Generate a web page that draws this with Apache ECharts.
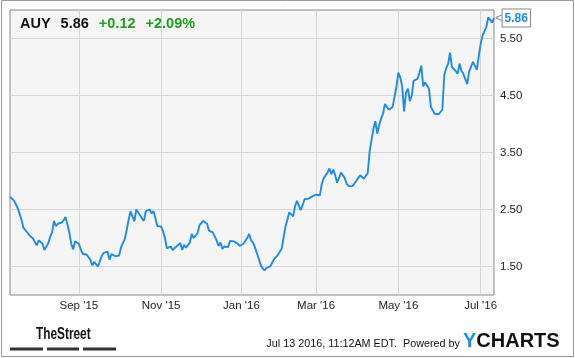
<!DOCTYPE html>
<html><head><meta charset="utf-8">
<script src="https://cdn.jsdelivr.net/npm/echarts@6/dist/echarts.min.js"></script>
<style>html,body{margin:0;padding:0;background:#fff}#c{width:575px;height:358px}</style>
</head><body><div id="c"></div>
<script>
// Trading days (categories), one list per month
const monthKeys = ['2015-07','2015-08','2015-09','2015-10','2015-11','2015-12','2016-01','2016-02','2016-03','2016-04','2016-05','2016-06','2016-07'];
const tradingDays = [
  [13,14,15,16,17,20,21,22,23,24,27,28,29,30,31],
  [3,4,5,6,7,10,11,12,13,14,17,18,19,20,21,24,25,26,27,28,31],
  [1,2,3,4,8,9,10,11,14,15,16,17,18,21,22,23,24,25,28,29,30],
  [1,2,5,6,7,8,9,12,13,14,15,16,19,20,21,22,23,26,27,28,29,30],
  [2,3,4,5,6,9,10,11,12,13,16,17,18,19,20,23,24,25,27,30],
  [1,2,3,4,7,8,9,10,11,14,15,16,17,18,21,22,23,24,28,29,30,31],
  [4,5,6,7,8,11,12,13,14,15,19,20,21,22,25,26,27,28,29],
  [1,2,3,4,5,8,9,10,11,12,16,17,18,19,22,23,24,25,26,29],
  [1,2,3,4,7,8,9,10,11,14,15,16,17,18,21,22,23,24,28,29,30,31],
  [1,4,5,6,7,8,11,12,13,14,15,18,19,20,21,22,25,26,27,28,29],
  [2,3,4,5,6,9,10,11,12,13,16,17,18,19,20,23,24,25,26,27,31],
  [1,2,3,6,7,8,9,10,13,14,15,16,17,20,21,22,23,24,27,28,29,30],
  [1,5,6,7,8,11,12,13]
];

// AUY closing prices, one list per month
const pricesJul15 = [2.72,2.69,2.66,2.63,2.53,2.50,2.32,2.18,2.14,2.10,2.05,2.03,1.99,2.01,1.87];
const pricesAug15 = [1.96,1.94,1.90,1.79,1.80,1.91,2.02,2.10,2.30,2.21,2.25,2.28,2.27,2.31,2.37,2.24,2.10,1.90,1.80,1.94,1.93];
const pricesSep15 = [1.90,1.80,1.72,1.72,1.71,1.69,1.62,1.52,1.58,1.55,1.50,1.53,1.69,1.74,1.76,1.76,1.62,1.72,1.74,1.68,1.65];
const pricesOct15 = [1.69,1.83,1.91,1.98,2.14,2.32,2.47,2.38,2.29,2.50,2.52,2.40,2.34,2.30,2.47,2.44,2.50,2.43,2.47,2.35,2.21,2.20];
const pricesNov15 = [2.20,2.12,2.00,1.82,1.84,1.85,1.79,1.80,1.85,1.88,1.91,1.79,1.88,1.83,1.83,1.92,2.07,2.00,2.03,2.08];
const pricesDec15 = [2.22,2.22,2.30,2.32,2.25,2.13,2.11,2.10,2.03,1.96,1.86,1.92,1.81,1.85,1.87,1.84,1.95,1.97,1.94,1.93,1.90,1.86];
const pricesJan16 = [1.88,1.90,1.93,2.00,2.07,1.96,1.92,1.84,1.82,1.64,1.53,1.47,1.43,1.47,1.50,1.50,1.52,1.63,1.61];
const pricesFeb16 = [1.70,1.76,1.81,1.80,2.20,2.32,2.45,2.48,2.38,2.56,2.65,2.57,2.49,2.58,2.68,2.70,2.69,2.72,2.73,2.73];
const pricesMar16 = [2.76,2.78,2.75,2.95,3.05,3.08,3.15,3.22,3.12,3.20,3.10,2.97,3.05,3.15,3.12,3.05,2.95,2.91,2.91,2.91,2.92,3.00];
const pricesApr16 = [3.05,3.10,3.10,3.04,3.06,3.14,3.52,3.72,3.92,4.05,3.83,3.98,4.10,4.18,4.35,4.33,4.25,4.22,4.30,4.33,4.65];
const pricesMay16 = [4.90,4.82,4.66,4.22,4.55,4.62,4.40,4.50,4.76,4.74,4.79,4.90,5.02,4.66,4.73,4.70,4.62,4.30,4.32,4.18,4.17];
const pricesJun16 = [4.17,4.18,4.25,4.85,4.98,5.05,5.25,5.00,4.97,4.93,4.88,5.06,4.93,4.88,4.88,4.70,4.92,4.95,5.09,5.08,4.95,5.18];
const pricesJul16 = [5.40,5.55,5.63,5.70,5.87,5.89,5.78,5.86];

// Axis labels
const xTickMonths = ['2015-09','2015-11','2016-01','2016-03','2016-05','2016-07'];
const xTickLabels = ["Sep '15","Nov '15","Jan '16","Mar '16","May '16","Jul '16"];
const yTickValues = [1.5,2.5,3.5,4.5,5.5];

// Header texts
const ticker = 'AUY', lastPrice = '5.86', change = '+0.12', changePct = '+2.09%';

const monthlyPrices = [pricesJul15,pricesAug15,pricesSep15,pricesOct15,pricesNov15,pricesDec15,pricesJan16,pricesFeb16,pricesMar16,pricesApr16,pricesMay16,pricesJun16,pricesJul16];
const categories = [], prices = [];
monthKeys.forEach((m, k) => {
  tradingDays[k].forEach((d, j) => {
    categories.push(m + '-' + String(d).padStart(2, '0'));
    prices.push(monthlyPrices[k][j]);
  });
});
// first trading day of each labelled month
const tickIndex = {};
xTickMonths.forEach((m, k) => {
  const idx = categories.findIndex(c => c.startsWith(m));
  tickIndex[idx] = xTickLabels[k];
});

const FONT = '"Liberation Sans", Arial, sans-serif';
const chart = echarts.init(document.getElementById('c'), null, {renderer: 'canvas'});
chart.setOption({
  animation: false,
  backgroundColor: '#fff',
  title: {
    left: 20, top: 15, padding: 0,
    text: '{t|' + ticker + '}  {t|' + lastPrice + '}  {g|' + change + '}  {g|' + changePct + '}',
    textStyle: {
      rich: {
        t: {fontFamily: FONT, fontWeight: 'bold', fontSize: 14.5, color: '#111'},
        g: {fontFamily: FONT, fontWeight: 'bold', fontSize: 14.5, color: '#1e9e1e'}
      }
    }
  },
  grid: {left: 10, top: 10, right: 81, bottom: 63, show: true, backgroundColor: '#f5f5f5', borderColor: '#888', borderWidth: 1},
  xAxis: {
    type: 'category', data: categories, boundaryGap: false,
    axisLine: {show: false}, axisTick: {show: false},
    axisLabel: {
      interval: (i) => tickIndex[i] !== undefined,
      formatter: (v, i) => tickIndex[i] || '',
      color: '#222', fontSize: 11.5, fontFamily: FONT, margin: 5
    },
    splitLine: {show: true, interval: (i) => tickIndex[i] !== undefined, lineStyle: {color: '#d6d6d6', width: 1}}
  },
  yAxis: {
    type: 'value', position: 'right', min: 1, max: 6,
    axisLine: {show: false},
    axisTick: {show: false, customValues: yTickValues},
    axisLabel: {customValues: yTickValues, formatter: (v) => v.toFixed(2), color: '#222', fontSize: 11.5, fontFamily: FONT, margin: 6},
    splitLine: {show: true, lineStyle: {color: '#d6d6d6', width: 1}}
  },
  series: [{
    type: 'line', data: prices, showSymbol: false, silent: true,
    lineStyle: {color: '#1e8be6', width: 1.9}, itemStyle: {color: '#1e8be6'},
    endLabel: {
      show: true, distance: 1,
      formatter: (p) => '{a|<}{b|' + Number(p.value).toFixed(2) + '}',
      rich: {
        a: {color: '#888', fontSize: 13, fontFamily: FONT},
        b: {color: '#1e8be6', fontWeight: 'bold', fontSize: 12, fontFamily: FONT,
            backgroundColor: '#fff', borderColor: '#888', borderWidth: 1, padding: [3, 2, 2, 2]}
      }
    }
  }],
  graphic: [
    {type: 'rect', silent: true, shape: {x: 1.5, y: 0.5, width: 572, height: 356}, style: {fill: 'none', stroke: '#999', lineWidth: 1}},
    {type: 'text', silent: true, x: 36, y: 327, scaleX: 0.74, scaleY: 1,
      style: {x: 0, y: 0, text: 'TheStreet', font: 'bold 16px ' + FONT, fill: '#111', verticalAlign: 'top'}},
    {type: 'rect', silent: true, shape: {x: 10, y: 347.5, width: 33, height: 3}, style: {fill: '#333'}},
    {type: 'rect', silent: true, shape: {x: 47, y: 347.5, width: 32, height: 3}, style: {fill: '#333'}},
    {type: 'rect', silent: true, shape: {x: 83, y: 347.5, width: 33, height: 3}, style: {fill: '#333'}},
    {type: 'text', silent: true, right: 115, top: 339, style: {text: 'Jul 13 2016, 11:12AM EDT.  Powered by', font: '10.8px ' + FONT, fill: '#111'}},
    {type: 'text', silent: true, left: 463, top: 331, style: {
      text: '{y|Y}{c|CHARTS}',
      rich: {
        y: {fontFamily: FONT, fontWeight: 'bold', fontSize: 20, fill: '#1e8be6', color: '#1e8be6'},
        c: {fontFamily: FONT, fontWeight: 'bold', fontSize: 20, fill: '#111', color: '#111'}
      }
    }}
  ]
});
</script></body></html>
